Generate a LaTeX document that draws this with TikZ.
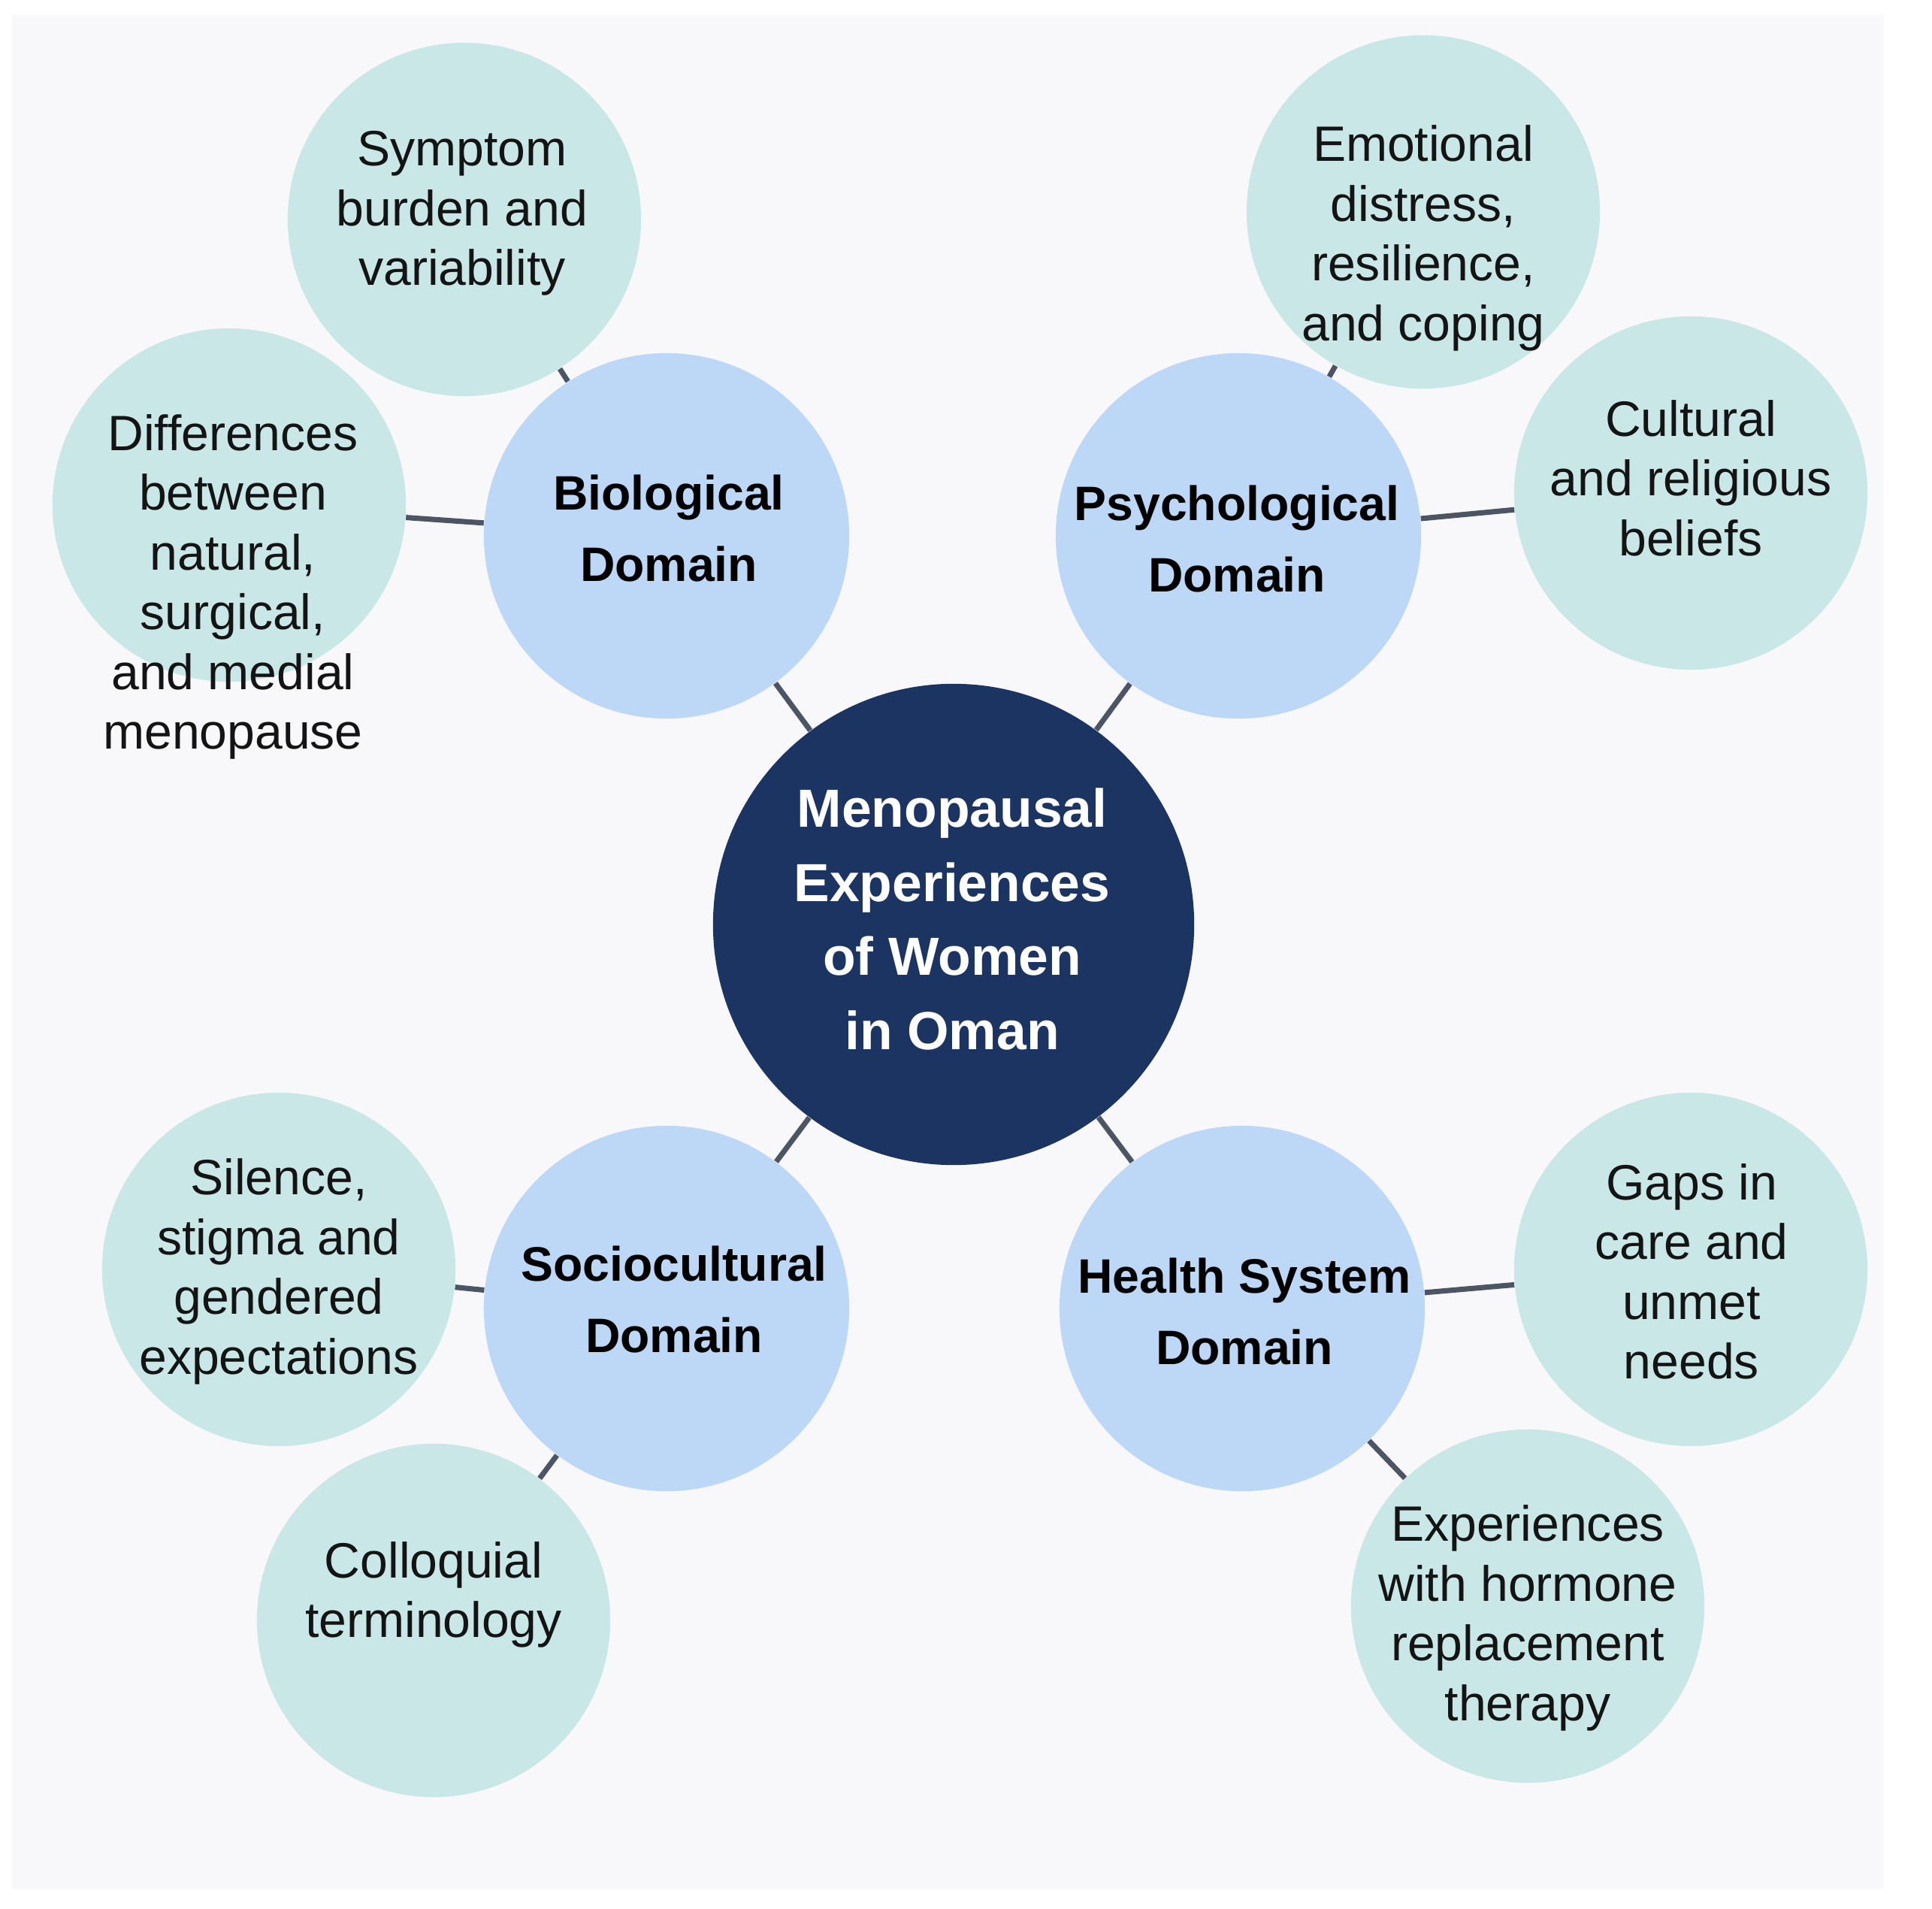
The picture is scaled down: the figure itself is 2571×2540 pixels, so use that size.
\documentclass[tikz,border=0pt]{standalone}
\usepackage{fontspec}
\setmainfont{Liberation Sans}
\usetikzlibrary{calc}
\definecolor{bgcol}{HTML}{F8F8FA}
\definecolor{leafcol}{HTML}{C9E7E7}
\definecolor{domcol}{HTML}{BDD8F6}
\definecolor{navy}{HTML}{1B3462}
\definecolor{linecol}{HTML}{4B5563}
\tikzset{
  leafcircle/.style={circle, fill=leafcol, minimum size=4.7cm, inner sep=0pt},
  domcircle/.style={circle, fill=domcol, minimum size=4.86cm, inner sep=0pt},
  hubcircle/.style={circle, fill=navy, minimum size=6.4cm, inner sep=0pt},
  leaftext/.style={align=center, inner sep=0pt, text=black!92, font=\fontsize{18.8}{22.6}\selectfont},
  domtext/.style={align=center, inner sep=0pt, text=black, font=\fontsize{18.3}{27}\selectfont\bfseries},
  hubtext/.style={align=center, inner sep=0pt, text=white, font=\fontsize{20.3}{28.1}\selectfont\bfseries},
  conn/.style={draw=linecol, line width=2pt}
}
\begin{document}
\begin{tikzpicture}[x=0.01cm, y=-0.01cm]
\useasboundingbox (0,0) rectangle (2571,2540);
\fill[white] (0,0) rectangle (2571,2540);
\fill[bgcol] (16,20) rectangle (2507,2513);

% hub
\node[hubcircle] (hub) at (1269,1230) {};
% domains
\node[domcircle] (bio) at (887,713) {};
\node[domcircle] (psy) at (1648,713) {};
\node[domcircle] (soc) at (887,1741) {};
\node[domcircle] (hea) at (1653,1741) {};
% leaves
\node[leafcircle] (sym) at (618,292) {};
\node[leafcircle] (dif) at (305,672) {};
\node[leafcircle] (emo) at (1894,282) {};
\node[leafcircle] (cul) at (2250,656) {};
\node[leafcircle] (sil) at (371,1689) {};
\node[leafcircle] (col) at (577,2156) {};
\node[leafcircle] (gap) at (2250,1689) {};
\node[leafcircle] (exp) at (2033,2137) {};

% connectors
\draw[conn] (hub) -- (bio);
\draw[conn] (hub) -- (psy);
\draw[conn] (hub) -- (soc);
\draw[conn] (hub) -- (hea);
\draw[conn] (bio) -- (sym);
\draw[conn] (bio) -- (dif);
\draw[conn] (psy) -- (emo);
\draw[conn] (psy) -- (cul);
\draw[conn] (soc) -- (sil);
\draw[conn] (soc) -- (col);
\draw[conn] (hea) -- (gap);
\draw[conn] (hea) -- (exp);

% texts
\node[hubtext] (hubT) at (1267,1223) {Menopausal\\Experiences\\of Women\\in Oman};
\node[domtext] (bioT) at (890,703) {Biological\\Domain};
\node[domtext] (psyT) at (1646,717) {Psychological\\Domain};
\node[domtext] (socT) at (897,1729) {Sociocultural\\Domain};
\node[domtext] (heaT) at (1656,1745) {Health System\\Domain};
\node[leaftext] (symT) at (615,284) {Symptom\\burden and\\variability};
\node[leaftext] (difT) at (310,781) {Differences\\between\\natural,\\surgical,\\and medial\\menopause};
\node[leaftext] (emoT) at (1894,317) {Emotional\\distress,\\resilience,\\and coping};
\node[leaftext] (culT) at (2250,636) {Cultural\\and religious\\beliefs};
\node[leaftext] (silT) at (371,1692) {Silence,\\stigma and\\gendered\\expectations};
\node[leaftext] (colT) at (577,2122) {Colloquial\\terminology};
\node[leaftext] (gapT) at (2251,1692) {Gaps in\\care and\\unmet\\needs};
\node[leaftext] (expT) at (2033,2153) {Experiences\\with hormone\\replacement\\therapy};
\end{tikzpicture}
\end{document}
